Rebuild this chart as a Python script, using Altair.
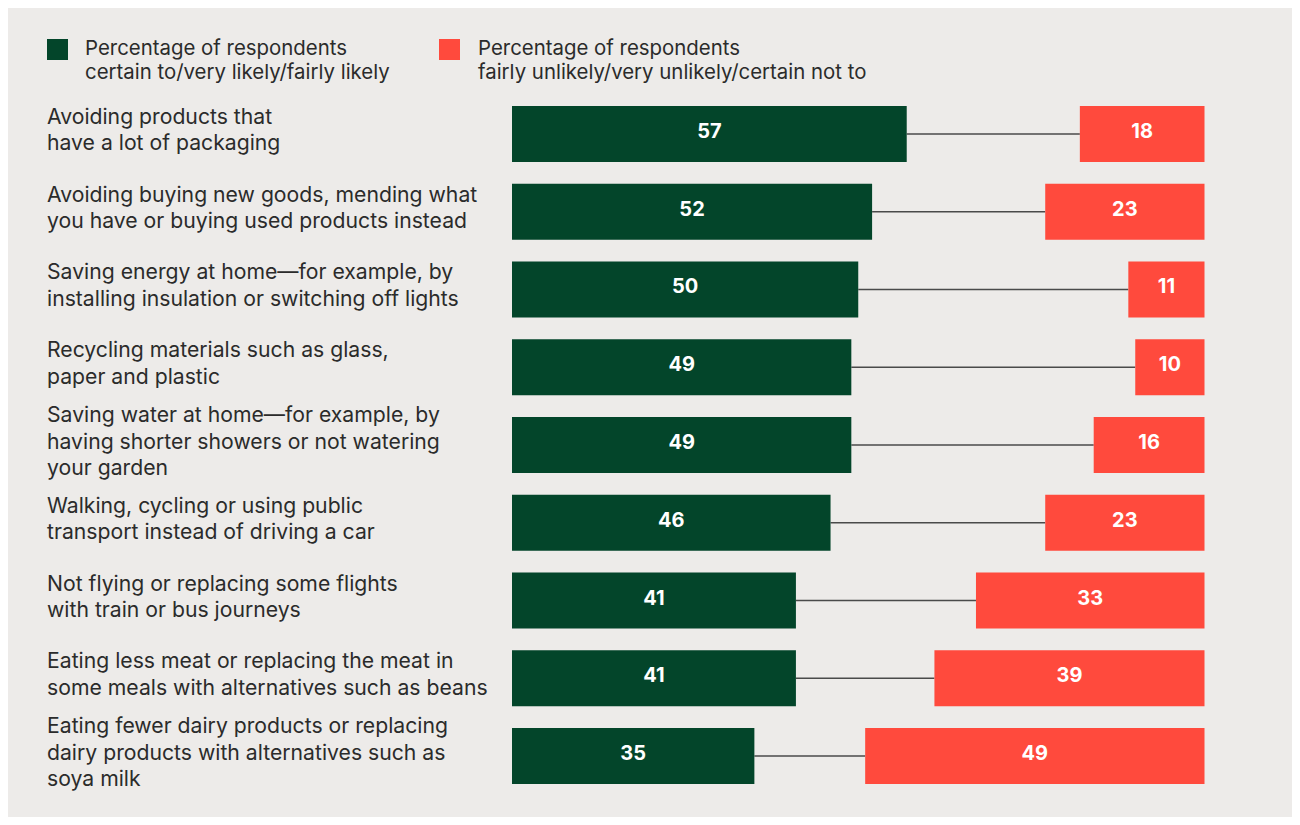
import altair as alt
import pandas as pd

categories = [
    "Avoiding products that\nhave a lot of packaging",
    "Avoiding buying new goods, mending what\nyou have or buying used products instead",
    "Saving energy at home\u2014for example, by\ninstalling insulation or switching off lights",
    "Recycling materials such as glass,\npaper and plastic",
    "Saving water at home\u2014for example, by\nhaving shorter showers or not watering\nyour garden",
    "Walking, cycling or using public\ntransport instead of driving a car",
    "Not flying or replacing some flights\nwith train or bus journeys",
    "Eating less meat or replacing the meat in\nsome meals with alternatives such as beans",
    "Eating fewer dairy products or replacing\ndairy products with alternatives such as\nsoya milk",
]
likely = [57, 52, 50, 49, 49, 46, 41, 41, 35]
unlikely = [18, 23, 11, 10, 16, 23, 33, 39, 49]
legend_labels = [
    "Percentage of respondents\ncertain to/very likely/fairly likely",
    "Percentage of respondents\nfairly unlikely/very unlikely/certain not to",
]

GREEN = "#03452A"
RED = "#FF4A3D"
TEXT = "#2B2B2B"
BG = "#EDEBE9"
FONT = "Inter"

df = pd.DataFrame({"cat": categories, "likely": likely, "unlikely": unlikely})

base = alt.Chart(df).transform_calculate(
    z="0",
    rs="100 - datum.unlikely",
    re="100",
    gmid="datum.likely / 2",
    rmid="100 - datum.unlikely / 2",
    nl="length(split(datum.cat, '\\n'))",
)

yenc = alt.Y(
    "cat:N",
    sort=None,
    axis=None,
    scale=alt.Scale(domain=categories, range=[98, 776], paddingInner=0.28, paddingOuter=0),
)
xscale = alt.Scale(domain=[0, 100], range=[504, 1196.5])

green_bars = base.mark_rect(color=GREEN).encode(
    x=alt.X("z:Q", axis=None, scale=xscale),
    x2="likely:Q",
    y=yenc,
)

red_bars = base.mark_rect(color=RED).encode(
    x=alt.X("rs:Q", axis=None, scale=xscale),
    x2="re:Q",
    y=yenc,
)

connector = base.mark_rule(color="#4a4a4a", strokeWidth=1.3).encode(
    x=alt.X("likely:Q", axis=None, scale=xscale),
    x2="rs:Q",
    y=yenc,
)

val_style = dict(color="white", fontSize=20, fontWeight="bold", font=FONT,
                 baseline="alphabetic", dy=4)

green_text = base.mark_text(**val_style).encode(
    x=alt.X("gmid:Q", axis=None, scale=xscale),
    y=yenc,
    text="likely:Q",
)

red_text = base.mark_text(**val_style).encode(
    x=alt.X("rmid:Q", axis=None, scale=xscale),
    y=yenc,
    text="unlikely:Q",
)

lab_style = dict(align="left", baseline="middle", fontSize=21.2, font=FONT,
                 lineBreak="\n", lineHeight=26.5, color=TEXT)

labels2 = base.transform_filter("datum.nl <= 2").mark_text(dy=-16, **lab_style).encode(
    x=alt.value(39),
    y=yenc,
    text="cat:N",
)
labels3 = base.transform_filter("datum.nl > 2").mark_text(dy=-29, **lab_style).encode(
    x=alt.value(39),
    y=yenc,
    text="cat:N",
)

leg_df1 = pd.DataFrame({"t": [legend_labels[0]]})
leg_df2 = pd.DataFrame({"t": [legend_labels[1]]})

leg_sq1 = alt.Chart(leg_df1).mark_rect(color=GREEN).encode(
    x=alt.value(39), x2=alt.value(60), y=alt.value(31), y2=alt.value(52)
)
leg_sq2 = alt.Chart(leg_df2).mark_rect(color=RED).encode(
    x=alt.value(431), x2=alt.value(452), y=alt.value(31), y2=alt.value(52)
)
leg_style = dict(align="left", baseline="alphabetic", fontSize=20.4, font=FONT,
                 lineBreak="\n", lineHeight=24.4, color=TEXT)
leg_t1 = alt.Chart(leg_df1).mark_text(**leg_style).encode(
    x=alt.value(77), y=alt.value(46.5), text="t:N")
leg_t2 = alt.Chart(leg_df2).mark_text(**leg_style).encode(
    x=alt.value(470), y=alt.value(46.5), text="t:N")

chart = alt.layer(
    connector, green_bars, red_bars, green_text, red_text, labels2, labels3,
    leg_sq1, leg_sq2, leg_t1, leg_t2,
).properties(
    width=1284, height=809, background=BG, padding=0,
    autosize=alt.AutoSizeParams(type="none"),
).configure_view(stroke=None)

chart.save("out.html", embed_options={"renderer": "svg", "actions": False})
